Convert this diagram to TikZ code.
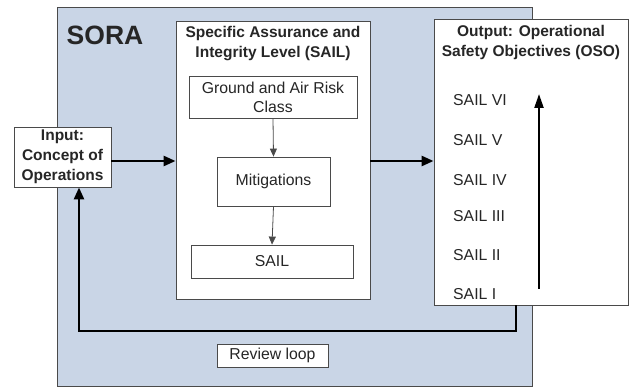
\documentclass[tikz,border=0pt]{standalone}
\usepackage{fontspec}
\setmainfont{Liberation Sans}
\usetikzlibrary{arrows.meta,positioning}
\definecolor{soraBlue}{HTML}{C9D5E6}
\definecolor{txt}{HTML}{262626}
\definecolor{edge}{HTML}{4A4A4A}
\tikzset{
  panel/.style={draw=edge, line width=0.9pt, fill=white, inner sep=0pt},
  smallbox/.style={draw=edge, line width=0.8pt, fill=white, inner sep=0pt, font=\fontsize{15.8}{19}\selectfont, text=txt, align=center},
  titletext/.style={font=\bfseries\fontsize{15.5}{20}\selectfont, text=txt, align=center, inner sep=0pt},
  itemtext/.style={font=\fontsize{15.8}{19}\selectfont, text=txt, anchor=west, inner sep=0pt},
  bigarrow/.style={draw=black, line width=2.6pt, -{Triangle[length=12pt,width=10pt]}},
  thinarrow/.style={draw=edge, line width=0.8pt, -{Triangle[length=8pt,width=7pt]}}
}
\begin{document}
\begin{tikzpicture}[x=1pt,y=-1pt]
\useasboundingbox (0,0) rectangle (629,387);
% SORA background
\node[draw=edge, line width=0.9pt, fill=soraBlue, minimum width=475pt, minimum height=379pt, inner sep=0pt] (sora) at (294.5,196.5) {};
\node[font=\bfseries\fontsize{26.5}{30}\selectfont, text=txt, inner sep=0pt] (soratitle) at (105,35) {SORA};
% SAIL panel
\node[panel, minimum width=194pt, minimum height=278pt] (sailp) at (273,160) {};
\node[titletext] (sailt) at (273,44) {Specific Assurance and\\Integrity Level (SAIL)};
\node[smallbox, minimum width=168pt, minimum height=42pt] (grc) at (273,97) {Ground and Air Risk\\Class};
\node[smallbox, minimum width=113pt, minimum height=49pt] (mit) at (273.5,181.5) {Mitigations};
\node[smallbox, minimum width=162pt, minimum height=33pt] (sail) at (272,261.5) {SAIL};
\draw[thinarrow] (grc.south) -- (mit.north);
\draw[thinarrow] (mit.south) -- (sail.north);
% Output panel
\node[panel, minimum width=194pt, minimum height=286pt] (out) at (531,162) {};
\node[titletext] (outt) at (531,42) {Output: Operational\\Safety Objectives (OSO)};
\node[itemtext] (s6) at (453,100) {SAIL VI};
\node[itemtext] (s5) at (453,140) {SAIL V};
\node[itemtext] (s4) at (453,180) {SAIL IV};
\node[itemtext] (s3) at (453,216) {SAIL III};
\node[itemtext] (s2) at (453,255) {SAIL II};
\node[itemtext] (s1) at (453,294) {SAIL I};
\coordinate (upfrom) at (539,289);
\coordinate (upto) at (539,94);
\draw[bigarrow, line width=2.2pt, -{Triangle[length=14pt,width=9pt]}] (upfrom) -- (upto);
% Input box
\node[smallbox, line width=0.9pt, minimum width=97pt, minimum height=60pt, font=\bfseries\fontsize{15.5}{20}\selectfont] (inp) at (62.5,157) {Input:\\Concept of\\Operations};
% main flow arrows
\draw[bigarrow] (inp.east |- 0,161) -- (sailp.west |- 0,161);
\draw[bigarrow] (sailp.east |- 0,161) -- (out.west |- 0,161);
% review loop
\coordinate (loopR) at (516,331);
\coordinate (loopL) at (79,331);
\draw[bigarrow] (out.south -| loopR) -- (loopR) -- (loopL) -- (inp.south -| loopL);
\node[smallbox, minimum width=111pt, minimum height=23pt] (rev) at (272.5,355.5) {Review loop};
\end{tikzpicture}
\end{document}
